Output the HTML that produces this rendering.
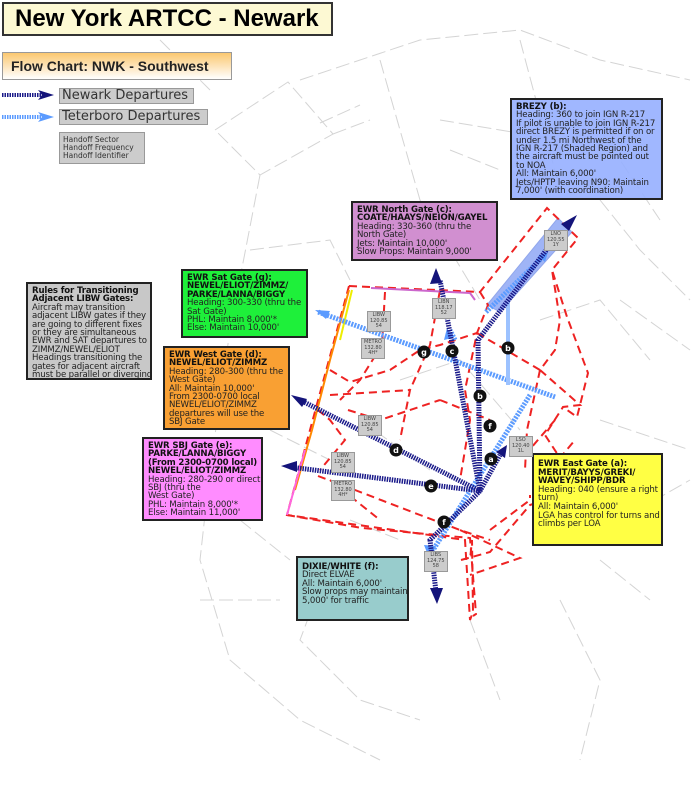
<!DOCTYPE html>
<html><head><meta charset="utf-8"><style>
body{margin:0;width:700px;height:805px;background:#fff;position:relative;overflow:hidden;font-family:"DejaVu Sans",Verdana,sans-serif}
.b{position:absolute;border:2px solid #222;font-size:8.6px;letter-spacing:-0.15px;line-height:8.4px;padding:3px 4px;box-sizing:border-box;color:#222;white-space:nowrap;overflow:hidden}
.b b{color:#111}
.h{position:absolute;background:#ccc;border:1px solid #999;font-size:5px;line-height:5.5px;text-align:center;color:#444;padding:1px 2px}
svg{position:absolute;left:0;top:0}
</style></head><body>
<svg width="700" height="805" viewBox="0 0 700 805">
<g stroke="#d4d4d4" stroke-width="1" fill="none" stroke-dasharray="14,5">
<path d="M215,130 L288,82 L333,134 L260,175 Z"/>
<path d="M320,123 L360,105 M333,134 L370,120"/>
<path d="M260,175 L230,330 L210,470 L200,560 L230,660 L300,720 L380,760"/>
<path d="M300,80 L420,40 L520,30 L600,60 L690,80"/>
<path d="M380,60 L420,200 L480,300 M440,120 L560,140 M520,40 L560,190"/>
<path d="M600,200 L640,250 L690,300 M620,300 L690,350 M600,420 L690,450"/>
<path d="M250,250 L330,240 L350,280 M270,430 L330,460 M240,520 L290,560 M200,600 L280,600"/>
<path d="M330,560 L300,640 L360,700 L420,720 M470,620 L500,700 M560,600 L600,680 L580,760"/>
<path d="M400,380 L460,360 L520,430 M360,420 L430,470 M350,520 L400,540"/>
<path d="M540,320 L600,300 L650,360 M620,520 L690,480 M600,560 L650,600"/>
<path d="M160,40 L210,90 M450,150 L500,170 M600,130 L660,220"/>
</g>
<polygon points="487,305 558,218 572,232 500,312" fill="#8fa8f5" opacity=".85" stroke="#7f98e8"/>
<g stroke="#e22" stroke-width="2" fill="none" stroke-dasharray="8,5">
<path d="M349,286 L287,515 L465,540 L470,620 L473,612 L472,540 L470,560"/>
<path d="M287,515 L362,528 L470,538 L476,614 L473,616"/>
<path d="M349,286 L480,292 L547,208 L578,238 L552,270 L567,317 L588,373 L577,417 L563,407 M480,292 L488,305 L477,333 L465,390 L470,420 L460,480"/>
<path d="M477,333 L540,370 L555,350 L560,320 L552,270"/>
<path d="M540,370 L580,405 L563,407 L545,435 L560,458 L575,440 M540,370 L527,430 L525,470 M555,420 L525,455"/>
<path d="M330,370 L350,382 L390,370 L420,350 L440,345 L477,333"/>
<path d="M385,292 L382,345 L360,380 L340,400 M440,290 L430,345 L410,390 L400,440"/>
<path d="M330,395 L410,390 M330,480 L380,520 M318,476 L355,490 L420,515 L460,530 L490,540 M490,530 L530,500 L530,495"/>
<path d="M318,410 L330,420 L345,440 L320,470 M348,410 L380,420 L440,400 M440,400 L490,420"/>
<path d="M461,560 L490,552 L530,505 L545,500 M460,530 L520,558 L470,575"/>
</g>
<path d="M349,290 L330,360 L312,430 L295,490" stroke="#f80" stroke-width="2" fill="none"/>
<path d="M352,290 L340,340" stroke="#ee0" stroke-width="2"/>
<path d="M305,450 L287,515" stroke="#f6d" stroke-width="2"/>
<path d="M371,288 L470,293 L475,300" stroke="#c6c" stroke-width="2" fill="none"/>
<g stroke="#5b9bff" stroke-width="5" fill="none" stroke-dasharray="2,1.2">
<path d="M555,397 L318,312"/>
<path d="M530,395 L430,555"/>
<path d="M508,302 L508,385" stroke-dasharray="none" stroke="#9cc2ff" stroke-width="4"/>
<path d="M455,340 L450,330"/>
<path d="M486,312 L545,255"/>
</g>
<polygon points="315,310 330,311 326,319" fill="#5b9bff"/>
<polygon points="548,252 538,256 545,262" fill="#5b9bff"/>
<polygon points="447,328 444,340 452,338" fill="#5b9bff"/>
<polygon points="430,560 424,545 436,546" fill="#5b9bff"/>
<g stroke="#1a1a8a" stroke-width="5" fill="none" stroke-dasharray="1.5,1">
<path d="M480,491 L478,340 L560,232"/>
<path d="M480,491 L440,280"/>
<path d="M480,491 L300,400"/>
<path d="M480,491 L290,467"/>
<path d="M480,491 L500,455"/>
<path d="M480,491 L430,540 L436,592"/>
</g>
<polygon points="577,215 561,224 569,231" fill="#14147a"/>
<polygon points="436,268 430,284 442,283" fill="#14147a"/>
<polygon points="291,395 307,399 302,407" fill="#14147a"/>
<polygon points="281,466 297,461 297,472" fill="#14147a"/>
<polygon points="507,445 496,452 505,458" fill="#14147a"/>
<polygon points="437,604 430,588 443,588" fill="#14147a"/>
<g fill="#111" font-family="DejaVu Sans,sans-serif" font-size="8" font-weight="bold" text-anchor="middle">
<circle cx="424" cy="352" r="6.5"/><circle cx="452" cy="351" r="6.5"/><circle cx="508" cy="348" r="6.5"/><circle cx="480" cy="396" r="6.5"/><circle cx="490" cy="426" r="6.5"/><circle cx="491" cy="459" r="6.5"/><circle cx="396" cy="450" r="6.5"/><circle cx="431" cy="486" r="6.5"/><circle cx="444" cy="522" r="6.5"/>
<g fill="#fff"><text x="424" y="355">g</text><text x="452" y="354">c</text><text x="508" y="351">b</text><text x="480" y="399">b</text><text x="490" y="429">f</text><text x="491" y="462">a</text><text x="396" y="453">d</text><text x="431" y="489">e</text><text x="444" y="525">f</text></g>
</g>
<path d="M2,95 L42,95" stroke="#1a1a8a" stroke-width="4" stroke-dasharray="1.5,1"/>
<polygon points="38,90 54,95 38,100 42,95" fill="#14147a"/>
<path d="M2,117 L42,117" stroke="#5b9bff" stroke-width="4" stroke-dasharray="1.5,1"/>
<polygon points="38,112 54,117 38,122 42,117" fill="#5b9bff"/>
</svg>
<div style="position:absolute;left:2px;top:2px;width:331px;height:34px;background:#fdf9d3;border:2px solid #333;box-sizing:border-box;font:bold 24px 'Liberation Sans',sans-serif;line-height:30px;padding-left:11px">New York ARTCC - Newark</div>
<div style="position:absolute;left:2px;top:52px;width:230px;height:28px;background:linear-gradient(#fbc870,#fff);border:1px solid #999;box-sizing:border-box;font:bold 14px 'Liberation Sans',sans-serif;line-height:26px;padding-left:8px;color:#222">Flow Chart: NWK - Southwest</div>
<div style="position:absolute;left:59px;top:88px;width:135px;height:16px;background:#ccc;border:1px solid #999;box-sizing:border-box;font:13px 'DejaVu Sans',sans-serif;line-height:14px;padding-left:2px;color:#333">Newark Departures</div>
<div style="position:absolute;left:59px;top:109px;width:149px;height:16px;background:#ccc;border:1px solid #999;box-sizing:border-box;font:13px 'DejaVu Sans',sans-serif;line-height:14px;padding-left:2px;color:#333">Teterboro Departures</div>
<div style="position:absolute;left:59px;top:132px;width:86px;height:32px;background:#ccc;border:1px solid #999;box-sizing:border-box;font:7.5px 'DejaVu Sans',sans-serif;line-height:8px;padding:3px 3px;color:#333">Handoff Sector<br>Handoff Frequency<br>Handoff Identifier</div>
<div class="b" style="left:510px;top:98px;width:153px;height:102px;background:rgba(150,175,255,.9)"><b>BREZY (b):</b><br>Heading: 360 to join IGN R-217<br>If pilot is unable to join IGN R-217<br>direct BREZY is permitted if on or<br>under 1.5 mi Northwest of the<br>IGN R-217 (Shaded Region) and<br>the aircraft must be pointed out<br>to NOA<br>All: Maintain 6,000'<br>Jets/HPTP leaving N90: Maintain<br>7,000' (with coordination)</div>
<div class="b" style="left:351px;top:201px;width:147px;height:60px;background:#d18fd0"><b>EWR North Gate (c):<br>COATE/HAAYS/NEION/GAYEL</b><br>Heading: 330-360 (thru the<br>North Gate)<br>Jets: Maintain 10,000'<br>Slow Props: Maintain 9,000'</div>
<div class="b" style="left:181px;top:269px;width:127px;height:69px;background:#1ef03a"><b>EWR Sat Gate (g):<br>NEWEL/ELIOT/ZIMMZ/<br>PARKE/LANNA/BIGGY</b><br>Heading: 300-330 (thru the<br>Sat Gate)<br>PHL: Maintain 8,000'*<br>Else: Maintain 10,000'</div>
<div class="b" style="left:26px;top:282px;width:126px;height:98px;background:#c8c8c8"><b>Rules for Transitioning<br>Adjacent LIBW Gates:</b><br>Aircraft may transition<br>adjacent LIBW gates if they<br>are going to different fixes<br>or they are simultaneous<br>EWR and SAT departures to<br>ZIMMZ/NEWEL/ELIOT<br>Headings transitioning the<br>gates for adjacent aircraft<br>must be parallel or diverging</div>
<div class="b" style="left:163px;top:346px;width:127px;height:84px;background:#f9a033"><b>EWR West Gate (d):<br>NEWEL/ELIOT/ZIMMZ</b><br>Heading: 280-300 (thru the<br>West Gate)<br>All: Maintain 10,000'<br>From 2300-0700 local<br>NEWEL/ELIOT/ZIMMZ<br>departures will use the<br>SBJ Gate</div>
<div class="b" style="left:142px;top:437px;width:121px;height:84px;background:#ff8cff"><b>EWR SBJ Gate (e):<br>PARKE/LANNA/BIGGY<br>(From 2300-0700 local)<br>NEWEL/ELIOT/ZIMMZ</b><br>Heading: 280-290 or direct<br>SBJ (thru the<br>West Gate)<br>PHL: Maintain 8,000'*<br>Else: Maintain 11,000'</div>
<div class="b" style="left:532px;top:453px;width:131px;height:93px;background:#ffff44;line-height:8.6px;padding-top:5px"><b>EWR East Gate (a):<br>MERIT/BAYYS/GREKI/<br>WAVEY/SHIPP/BDR</b><br>Heading: 040 (ensure a right<br>turn)<br>All: Maintain 6,000'<br>LGA has control for turns and<br>climbs per LOA</div>
<div class="b" style="left:296px;top:556px;width:113px;height:65px;background:#98cccc;padding-top:5px"><b>DIXIE/WHITE (f):</b><br>Direct ELVAE<br>All: Maintain 6,000'<br>Slow props may maintain<br>5,000' for traffic</div>
<div class="h" style="left:544px;top:230px">LNO<br>120.55<br>1Y</div>
<div class="h" style="left:432px;top:298px">LIBN<br>118.17<br>52</div>
<div class="h" style="left:367px;top:311px">LIBW<br>120.85<br>54</div>
<div class="h" style="left:361px;top:338px">METRO<br>132.80<br>4H*</div>
<div class="h" style="left:358px;top:415px">LIBW<br>120.85<br>54</div>
<div class="h" style="left:331px;top:452px">LIBW<br>120.85<br>54</div>
<div class="h" style="left:331px;top:480px">METRO<br>132.80<br>4H*</div>
<div class="h" style="left:509px;top:436px">LSO<br>120.40<br>1L</div>
<div class="h" style="left:424px;top:551px">LIBS<br>124.75<br>58</div>
</body></html>
